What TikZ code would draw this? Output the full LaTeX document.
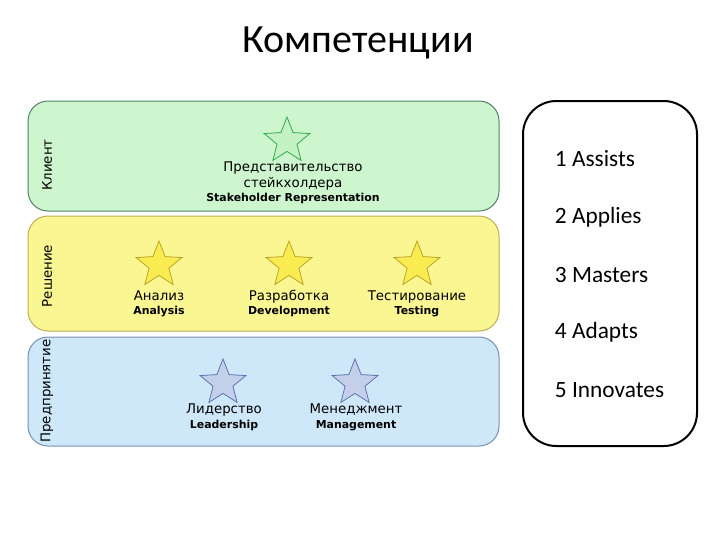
\documentclass[tikz,border=0pt]{standalone}
\usepackage{fontspec}
\setmainfont{DejaVu Sans}
\newfontfamily\calibfont{Carlito}
\usetikzlibrary{shapes.geometric}

\definecolor{clientFill}{RGB}{206,246,206}
\definecolor{clientLine}{RGB}{80,130,100}
\definecolor{solveFill}{RGB}{250,246,145}
\definecolor{solveLine}{RGB}{190,175,85}
\definecolor{entFill}{RGB}{206,232,250}
\definecolor{entLine}{RGB}{120,145,175}
\definecolor{starGreenFill}{RGB}{196,242,196}
\definecolor{starGreenLine}{RGB}{50,170,80}
\definecolor{starYellowFill}{RGB}{250,236,80}
\definecolor{starYellowLine}{RGB}{185,165,45}
\definecolor{starBlueFill}{RGB}{196,208,234}
\definecolor{starBlueLine}{RGB}{95,115,175}

\tikzset{every picture/.style={line width=0.75pt}}
\tikzset{
	compstar/.style={star, star points=5, star point ratio=2.3, minimum size=36pt, inner sep=0pt, line width=0.6pt},
	rulabel/.style={font=\fontsize{10}{12}\selectfont, text height=7.5pt, text depth=2pt},
	enlabel/.style={font=\fontsize{8.2}{10}\selectfont\bfseries, text height=6.2pt, text depth=1.8pt},
	sidelabel/.style={rotate=90, font=\fontsize{10}{12}\selectfont},
	levellabel/.style={anchor=west, font=\calibfont\fontsize{17.5}{21}\selectfont}}

\begin{document}
\begin{tikzpicture}[x=0.75pt,y=0.75pt,yscale=-1,xscale=1]
	\path (0,0) rectangle (720,540); %set diagram to 720 x 540

	% Text Node
	\draw (358,43) node (title) {\calibfont\fontsize{30}{34}\selectfont Компетенции};

	%Rounded Rect [id:client]
	\draw [draw=clientLine, fill=clientFill, rounded corners=15] (28,101) rectangle (499,211);
	%Rounded Rect [id:solve]
	\draw [draw=solveLine, fill=solveFill, rounded corners=15] (28,216) rectangle (499,331);
	%Rounded Rect [id:enterprise]
	\draw [draw=entLine, fill=entFill, rounded corners=15] (28,337) rectangle (499,446);
	%Rounded Rect [id:levels]
	\draw [line width=1.5pt, rounded corners=25] (523,101) rectangle (697,446);

	% Text Node
	\draw (47,165) node [sidelabel] (client) {Клиент};
	% Text Node
	\draw (47,276) node [sidelabel] (solve) {Решение};
	% Text Node
	\draw (47,391) node [sidelabel] (enterprise) {Предпринятие};

	%Star [id:stakeholder]
	\draw (287,141) node [compstar, draw=starGreenLine, fill=starGreenFill] (stakeStar) {};
	% Text Node
	\draw (293,168) node [rulabel] (stakeRu) {Представительство};
	% Text Node
	\draw (293,184) node [rulabel] (stakeRuB) {стейкхолдера};
	% Text Node
	\draw (293,199) node [enlabel] (stakeEn) {Stakeholder Representation};

	%Star [id:analysis]
	\draw (159,265) node [compstar, draw=starYellowLine, fill=starYellowFill] (anaStar) {};
	% Text Node
	\draw (159,297) node [rulabel] (anaRu) {Анализ};
	% Text Node
	\draw (159,312) node [enlabel] (anaEn) {Analysis};

	%Star [id:development]
	\draw (289,265) node [compstar, draw=starYellowLine, fill=starYellowFill] (devStar) {};
	% Text Node
	\draw (289,297) node [rulabel] (devRu) {Разработка};
	% Text Node
	\draw (289,312) node [enlabel] (devEn) {Development};

	%Star [id:testing]
	\draw (417,265) node [compstar, draw=starYellowLine, fill=starYellowFill] (testStar) {};
	% Text Node
	\draw (417,297) node [rulabel] (testRu) {Тестирование};
	% Text Node
	\draw (417,312) node [enlabel] (testEn) {Testing};

	%Star [id:leadership]
	\draw (223,383) node [compstar, draw=starBlueLine, fill=starBlueFill] (leadStar) {};
	% Text Node
	\draw (224,410) node [rulabel] (leadRu) {Лидерство};
	% Text Node
	\draw (224,426) node [enlabel] (leadEn) {Leadership};

	%Star [id:management]
	\draw (355,383) node [compstar, draw=starBlueLine, fill=starBlueFill] (mgmtStar) {};
	% Text Node
	\draw (356,410) node [rulabel] (mgmtRu) {Менеджмент};
	% Text Node
	\draw (356,426) node [enlabel] (mgmtEn) {Management};

	% Text Node
	\draw (550,159) node [levellabel] (lvlOne) {1 Assists};
	% Text Node
	\draw (550,217) node [levellabel] (lvlTwo) {2 Applies};
	% Text Node
	\draw (550,275) node [levellabel] (lvlThree) {3 Masters};
	% Text Node
	\draw (550,332) node [levellabel] (lvlFour) {4 Adapts};
	% Text Node
	\draw (550,390) node [levellabel] (lvlFive) {5 Innovates};

\end{tikzpicture}
\end{document}
